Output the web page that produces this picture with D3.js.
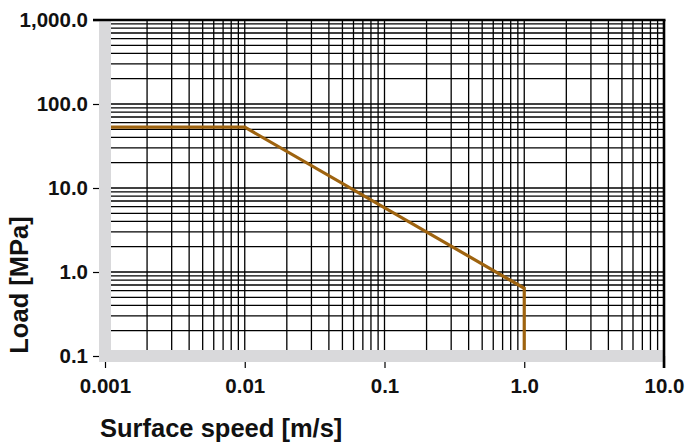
<!DOCTYPE html>
<html>
<head>
<meta charset="utf-8">
<script src="https://cdn.jsdelivr.net/npm/d3@7"></script>
<style>
  body { margin: 0; background: #fff; }
  text { font-family: "Liberation Sans", Arial, sans-serif; font-weight: bold; fill: #111; }
</style>
</head>
<body>
<div id="chart"></div>
<script>
// Data
var speed = [0.001, 0.01, 1.0, 1.0];   // surface speed [m/s]
var load = [53, 53, 0.64, 0.1];        // load [MPa]

var xTickValues = [0.001, 0.01, 0.1, 1.0, 10.0];
var xTickLabels = ["0.001", "0.01", "0.1", "1.0", "10.0"];
var yTickValues = [0.1, 1, 10, 100, 1000];
var yTickLabels = ["0.1", "1.0", "10.0", "100.0", "1,000.0"];

// SVG dimensions
var svgWidth = 690;
var svgHeight = 443;

var margin = { top: 20, right: 26, bottom: 87, left: 105 };

var plotWidth = svgWidth - margin.left - margin.right;
var plotHeight = svgHeight - margin.top - margin.bottom;

var svg = d3.select("#chart")
    .append("svg")
    .attr("width", svgWidth)
    .attr("height", svgHeight);

var chartGroup = svg.append("g")
    .attr("transform", `translate(${margin.left}, ${margin.top})`);

// Scales
var xScale = d3.scaleLog()
    .domain([0.001, 10])
    .range([0, plotWidth]);

var yScale = d3.scaleLog()
    .domain([0.1, 1000])
    .range([plotHeight, 0]);

// Grid lines
chartGroup.append("g")
    .selectAll("line")
    .data(xScale.ticks())
    .enter()
    .append("line")
    .attr("x1", d => xScale(d))
    .attr("x2", d => xScale(d))
    .attr("y1", 0)
    .attr("y2", plotHeight)
    .attr("stroke", "#000")
    .attr("stroke-width", 1.3);

chartGroup.append("g")
    .selectAll("line")
    .data(yScale.ticks())
    .enter()
    .append("line")
    .attr("x1", 0)
    .attr("x2", plotWidth)
    .attr("y1", d => yScale(d))
    .attr("y2", d => yScale(d))
    .attr("stroke", "#000")
    .attr("stroke-width", 1.3);

// Load line
var line = d3.line()
    .x((d, i) => xScale(speed[i]))
    .y((d, i) => yScale(load[i]));

chartGroup.append("path")
    .datum(speed)
    .attr("d", line)
    .attr("fill", "none")
    .attr("stroke", "#9e630f")
    .attr("stroke-width", 3.2)
    .attr("stroke-linejoin", "miter");

// Axes
var xAxis = d3.axisBottom(xScale)
    .tickValues(xTickValues)
    .tickFormat((d, i) => xTickLabels[i])
    .tickSize(12)
    .tickPadding(10);

var yAxis = d3.axisLeft(yScale)
    .tickValues(yTickValues)
    .tickFormat((d, i) => yTickLabels[i])
    .tickSize(12)
    .tickPadding(5);

var xAxisGroup = chartGroup.append("g")
    .attr("transform", `translate(0, ${plotHeight})`)
    .call(xAxis);

var yAxisGroup = chartGroup.append("g")
    .call(yAxis);

[xAxisGroup, yAxisGroup].forEach(function(g) {
    g.select(".domain").remove();
    g.selectAll(".tick line").attr("stroke", "#000").attr("stroke-width", 1.2);
    g.selectAll(".tick text")
        .style("font-size", "20.5px")
        .style("font-family", "'Liberation Sans', Arial, sans-serif")
        .style("font-weight", "bold")
        .attr("fill", "#111");
});

// Gray axis band over left and bottom
chartGroup.append("path")
    .attr("d", `M0,0 V${plotHeight} H${plotWidth}`)
    .attr("fill", "none")
    .attr("stroke", "#d9d9db")
    .attr("stroke-width", 12)
    .attr("stroke-linejoin", "miter");

// Top and right borders
chartGroup.append("line")
    .attr("x1", -12).attr("x2", plotWidth + 1.5)
    .attr("y1", 0).attr("y2", 0)
    .attr("stroke", "#000").attr("stroke-width", 2.6);

chartGroup.append("line")
    .attr("x1", plotWidth).attr("x2", plotWidth)
    .attr("y1", 0).attr("y2", plotHeight + 12)
    .attr("stroke", "#000").attr("stroke-width", 2.6);

// Axis titles
svg.append("text")
    .attr("x", 100)
    .attr("y", 437)
    .style("font-size", "25.5px")
    .text("Surface speed [m/s]");

svg.append("text")
    .attr("transform", "translate(28, 285) rotate(-90)")
    .attr("text-anchor", "middle")
    .style("font-size", "25.5px")
    .text("Load [MPa]");
</script>
</body>
</html>
